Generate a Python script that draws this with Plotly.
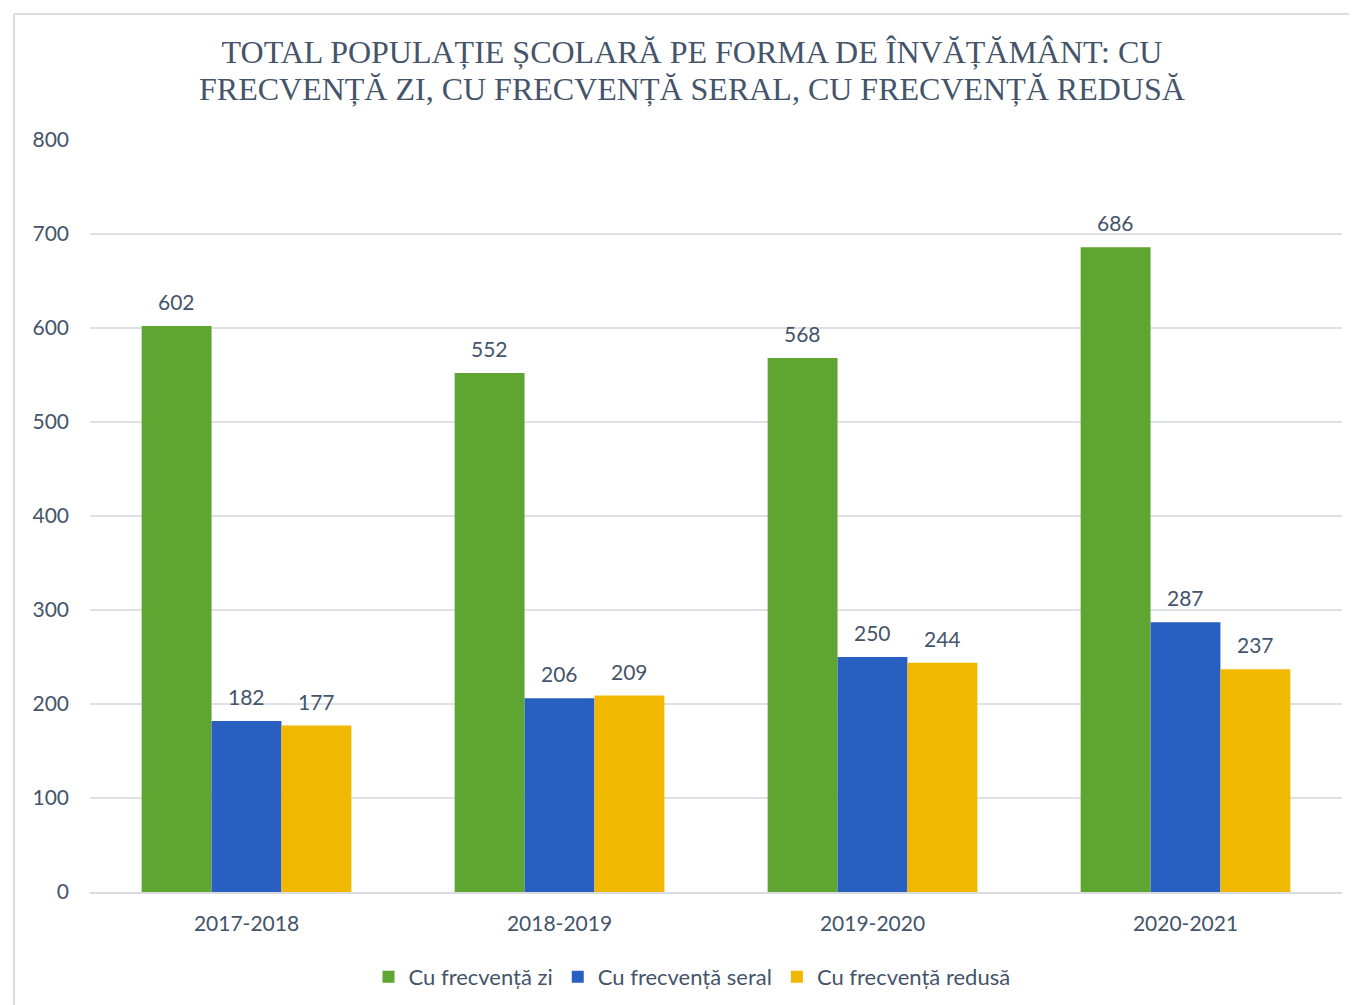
import plotly.graph_objects as go

categories = ["2017-2018", "2018-2019", "2019-2020", "2020-2021"]
zi = [602, 552, 568, 686]
seral = [182, 206, 250, 287]
redusa = [177, 209, 244, 237]
series_names = ["Cu frecvență zi", "Cu frecvență seral", "Cu frecvență redusă"]
y_ticks = [0, 100, 200, 300, 400, 500, 600, 700, 800]
title_line1 = "TOTAL POPULAȚIE ȘCOLARĂ PE FORMA DE ÎNVĂȚĂMÂNT: CU"
title_line2 = "FRECVENȚĂ ZI, CU FRECVENȚĂ SERAL, CU FRECVENȚĂ REDUSĂ"

colors = ["#5EA531", "#2A5FC2", "#F1B800"]
txt = "#44546A"
font_family = "Lato, 'Open Sans', sans-serif"
serif = "'Liberation Serif', 'Times New Roman', serif"

W, H = 1357, 1005
L, R, T, B = 82, 23, 132, 121
pw, ph = W - L - R, H - T - B
BARGAP = 0.33

fig = go.Figure()
all_series = [zi, seral, redusa]
for name, vals, col in zip(series_names, all_series, colors):
    fig.add_trace(go.Bar(
        name=name, x=categories, y=vals,
        marker=dict(color=col, line=dict(width=0)),
    ))

# value labels above bars
bw = pw / len(categories) * (1 - BARGAP) / len(all_series)
for i, vals in enumerate(all_series):
    for c, v in zip(categories, vals):
        fig.add_annotation(
            x=c, y=v, text=str(v), showarrow=False,
            xanchor="center", yanchor="bottom",
            xshift=(i - 1) * bw, yshift=10,
            font=dict(size=21, color=txt, family=font_family),
        )

# second title line
fig.add_annotation(
    xref="paper", yref="paper", x=(684 - L) / pw, y=1 + 51 / ph,
    xanchor="center", yanchor="middle", showarrow=False,
    text=title_line2, font=dict(family=serif, size=32, color=txt),
)

fig.update_layout(
    width=W, height=H,
    margin=dict(l=L, r=R, t=T, b=B),
    paper_bgcolor="white", plot_bgcolor="white",
    barmode="group", bargap=BARGAP, bargroupgap=0,
    font=dict(family=font_family, size=21, color=txt),
    title=dict(
        text=title_line1,
        x=684 / W, xanchor="center", xref="container",
        y=1 - 44 / H, yanchor="middle", yref="container",
        font=dict(family=serif, size=32, color=txt),
    ),
    xaxis=dict(
        showgrid=False, showline=True, linecolor="#D9DDE3", linewidth=1.5,
        ticks="", tickfont=dict(size=21, color=txt), ticklabelstandoff=12,
    ),
    yaxis=dict(
        range=[0, 800], tickvals=y_ticks, showgrid=True, gridcolor="#DEE2E8", gridwidth=1.5,
        zeroline=False, showline=False, ticks="",
        tickfont=dict(size=21, color=txt), ticklabelstandoff=20,
    ),
    legend=dict(
        orientation="h", x=(684 - L) / pw, xanchor="center", y=-(969 - (T + ph)) / ph, yanchor="middle",
        font=dict(size=22, color=txt), itemwidth=30, traceorder="normal",
    ),
    showlegend=True,
)

# light frame lines (left and top edges of chart area)
x_left = (6 - L) / pw
y_top = (T + ph - 6) / ph
fig.add_shape(type="line", xref="paper", yref="paper", x0=x_left, x1=x_left, y0=(T + ph - H) / ph, y1=y_top,
              line=dict(color="#D9DDE3", width=2))
fig.add_shape(type="line", xref="paper", yref="paper", x0=x_left, x1=(W - L) / pw, y0=y_top, y1=y_top,
              line=dict(color="#D9DDE3", width=2))

fig.write_html("out.html")
